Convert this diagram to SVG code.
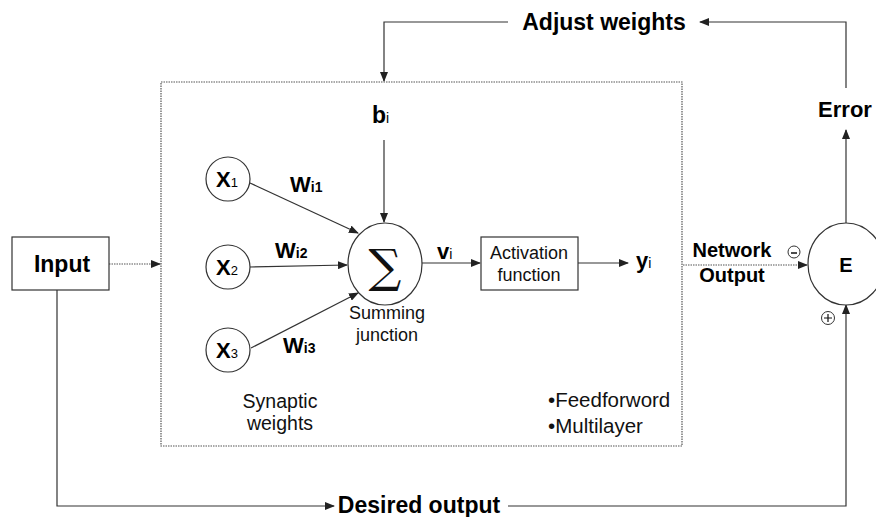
<svg xmlns="http://www.w3.org/2000/svg" width="876" height="517" viewBox="0 0 876 517">
<defs>
<marker id="ah" markerWidth="10" markerHeight="8" refX="9" refY="4" orient="auto" markerUnits="userSpaceOnUse">
<path d="M0,0 L10,4 L0,8 Z" fill="#222"/>
</marker>
<style>
.ln{fill:none;stroke:#333;stroke-width:1.2}
.dt{fill:none;stroke:#555;stroke-width:1.2;stroke-dasharray:1.5 1}
.nd{fill:#fff;stroke:#333;stroke-width:1.2}
.b{font-family:"Liberation Sans",Arial,sans-serif;font-weight:bold;fill:#000}
.r{font-family:"Liberation Sans",Arial,sans-serif;fill:#111}
</style>
</defs>
<rect width="876" height="517" fill="#fff"/>
<g id="connectors">
<path class="ln" d="M508,22 H384 V81" marker-end="url(#ah)"/>
<path class="ln" d="M846,88 V22 H700" marker-end="url(#ah)"/>
<path class="ln" d="M846,223 V130" marker-end="url(#ah)"/>
<path class="ln" d="M57,290 V506 H334" marker-end="url(#ah)"/>
<path class="ln" d="M508,506 H846 V305" marker-end="url(#ah)"/>
<path class="dt" d="M109,264 H160" marker-end="url(#ah)"/>
<path class="dt" d="M683,265 H807" marker-end="url(#ah)"/>
<path class="ln" d="M384,140 V222" marker-end="url(#ah)"/>
<path class="ln" d="M250,183 L358,233" marker-end="url(#ah)"/>
<path class="ln" d="M250,267 L347,265" marker-end="url(#ah)"/>
<path class="ln" d="M251,348 L358,293" marker-end="url(#ah)"/>
<path class="ln" d="M422,263 H480" marker-end="url(#ah)"/>
<path class="ln" d="M578,263 H628" marker-end="url(#ah)"/>
</g>
<g id="network-box">
<rect class="dt" x="161" y="82" width="521" height="364"/>
</g>
<g id="input">
<rect class="nd" x="12" y="237" width="97" height="53"/>
<text class="b" x="62" y="272" font-size="23" text-anchor="middle">Input</text>
</g>
<g id="x1">
<circle class="nd" cx="228" cy="179" r="22"/>
<text class="b" x="216" y="187" font-size="22">X<tspan font-size="13" font-weight="normal">1</tspan></text>
</g>
<g id="x2">
<circle class="nd" cx="228" cy="267" r="22"/>
<text class="b" x="216" y="275" font-size="22">X<tspan font-size="13" font-weight="normal">2</tspan></text>
</g>
<g id="x3">
<circle class="nd" cx="228" cy="350" r="22"/>
<text class="b" x="216" y="358" font-size="22">X<tspan font-size="13" font-weight="normal">3</tspan></text>
</g>
<g id="weights">
<text class="b" x="290" y="192" font-size="22">W<tspan font-size="14">i1</tspan></text>
<text class="b" x="275" y="258" font-size="22">W<tspan font-size="14">i2</tspan></text>
<text class="b" x="283" y="353" font-size="22">W<tspan font-size="14">i3</tspan></text>
<text class="r" x="280" y="408" font-size="19.5" text-anchor="middle">Synaptic</text>
<text class="r" x="280" y="430" font-size="19.5" text-anchor="middle">weights</text>
</g>
<g id="bias">
<text class="b" x="372" y="123" font-size="23">b<tspan font-size="14" font-weight="normal">i</tspan></text>
</g>
<g id="sum">
<ellipse class="nd" cx="385" cy="264" rx="37" ry="41"/>
<text x="385" y="282" font-family="'DejaVu Serif','Liberation Serif',serif" font-size="46" text-anchor="middle" fill="#111">∑</text>
<text class="r" x="387" y="319" font-size="18" text-anchor="middle">Summing</text>
<text class="r" x="387" y="341" font-size="18" text-anchor="middle">junction</text>
</g>
<g id="vi">
<text class="b" x="437" y="259" font-size="22">v<tspan font-size="14" font-weight="normal">i</tspan></text>
</g>
<g id="activation">
<rect class="nd" x="481" y="237" width="97" height="53"/>
<text class="r" x="529" y="259" font-size="18" text-anchor="middle">Activation</text>
<text class="r" x="529" y="281" font-size="18" text-anchor="middle">function</text>
</g>
<g id="yi">
<text class="b" x="636" y="268" font-size="22">y<tspan font-size="14" font-weight="normal">i</tspan></text>
</g>
<g id="notes">
<text class="r" x="548" y="407" font-size="20.5">•Feedforword</text>
<text class="r" x="548" y="433" font-size="20.5">•Multilayer</text>
</g>
<g id="network-output">
<text class="b" x="732" y="257" font-size="20" text-anchor="middle">Network</text>
<text class="b" x="732" y="282" font-size="20" text-anchor="middle">Output</text>
<circle cx="794" cy="252" r="6" fill="#fff" stroke="#333" stroke-width="1"/>
<path d="M791,253 H797" stroke="#111" stroke-width="1.5"/>
</g>
<g id="error-node">
<ellipse class="nd" cx="846" cy="264" rx="38" ry="41"/>
<text class="b" x="846" y="272" font-size="20" text-anchor="middle">E</text>
<circle cx="828" cy="318" r="6.5" fill="#fff" stroke="#333" stroke-width="1"/>
<path d="M824,318 H832 M828,314 V322" stroke="#111" stroke-width="1.2"/>
</g>
<g id="labels">
<text class="b" x="604" y="30" font-size="23" text-anchor="middle">Adjust weights</text>
<text class="b" x="845" y="117" font-size="22" text-anchor="middle">Error</text>
<text class="b" x="419" y="513" font-size="23" text-anchor="middle">Desired output</text>
</g>
</svg>
